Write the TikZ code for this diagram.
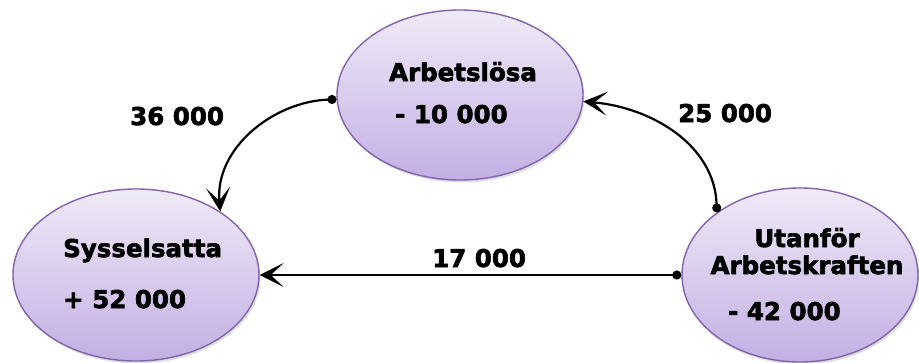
\documentclass[tikz,border=0pt]{standalone}
\usepackage{fontspec}
\setmainfont{DejaVu Sans}[BoldFeatures={FakeBold=2.5}]
\usetikzlibrary{arrows.meta,shadows,shapes.geometric}
\newcommand{\flowFont}[0]{\fontsize{24.5}{28}\selectfont\bfseries}
\newcommand{\shadowOpacity}[0]{0.25}
\definecolor{stateTop}{HTML}{EFEAF7}
\definecolor{stateBottom}{HTML}{C3AFE4}
\definecolor{stateEdge}{HTML}{8264AC}

\begin{document}
\begin{tikzpicture}[x=1pt, y=-1pt]
  \tikzset{state/.style={ellipse, draw=stateEdge, line width=1.4pt,
      top color=stateTop, bottom color=stateBottom,
      drop shadow={opacity=\shadowOpacity, shadow xshift=1.5pt, shadow yshift=-2.5pt}},
    txt/.style={font=\flowFont, inner sep=0pt},
    flow/.style={line width=2.2pt, {Circle[length=9pt]}-{Stealth[length=24pt, width=24pt, inset=13pt]}}}
  \useasboundingbox (0,0) rectangle (919,362);
  \node[state, minimum width=246pt, minimum height=170pt] (arb) at (460,95) {};
  \node[state, minimum width=246pt, minimum height=172pt] (syss) at (136,275) {};
  \node[state, minimum width=236pt, minimum height=174pt] (utan) at (800,275) {};
  % texts in the states
  \node[txt, anchor=base] (arbName) at (463,81) {Arbetslösa};
  \node[txt, anchor=base west] (arbNum) at (395,123) {- 10 000};
  \node[txt, anchor=base west] (syssName) at (63,257) {Sysselsatta};
  \node[txt, anchor=base west] (syssNum) at (63,308) {+ 52 000};
  \node[txt, anchor=base] (utanName) at (807,247) {Utanför};
  \node[txt, anchor=base] (utanName2) at (807,274) {Arbetskraften};
  \node[txt, anchor=base west] (utanNum) at (728,320) {- 42 000};
  % flows
  \draw[flow] (arb.182) to[out=182, in=95] (syss.37);
  \draw[flow] (utan.143) to[out=92, in=-5] (arb.-3);
  \draw[flow] (utan.west) -- (syss.east);
  \node[txt, anchor=base west] (flowA) at (130,125) {36 000};
  \node[txt, anchor=base west] (flowB) at (678,122) {25 000};
  \node[txt, anchor=base west] (flowC) at (432,267) {17 000};
\end{tikzpicture}
\end{document}
